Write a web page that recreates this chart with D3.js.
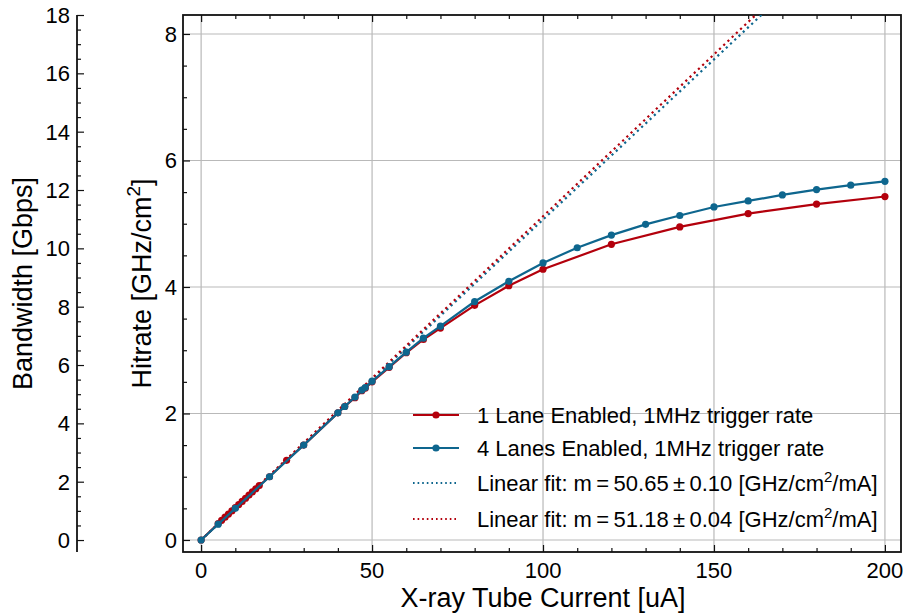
<!DOCTYPE html>
<html>
<head>
<meta charset="utf-8">
<script src="https://cdn.jsdelivr.net/npm/d3@7"></script>
<style>
  body { margin: 0; background: #fff; }
  svg { display: block; font-family: "Liberation Sans", Arial, Helvetica, sans-serif; }
</style>
</head>
<body>
<svg class="graph" width="904" height="616"></svg>
<script>
// Data: X-ray tube current [uA] vs hitrate [GHz/cm2]
const oneLaneCurrent = [0, 5, 6, 7, 8, 9, 10, 11, 12, 13, 14, 15, 16, 17, 20, 25, 30, 40, 42, 45, 47, 48, 50, 55, 60, 65, 70, 80, 90, 100, 120, 140, 160, 180, 200];
const oneLaneHitrate = [0, 0.26, 0.31, 0.36, 0.41, 0.46, 0.51, 0.56, 0.61, 0.66, 0.71, 0.76, 0.81, 0.86, 1.0, 1.26, 1.5, 2.01, 2.11, 2.25, 2.36, 2.4, 2.5, 2.73, 2.96, 3.17, 3.35, 3.71, 4.02, 4.28, 4.675, 4.95, 5.16, 5.31, 5.43];

const fourLaneCurrent = [0, 5, 10, 20, 30, 40, 42, 45, 47, 48, 50, 55, 60, 65, 70, 80, 90, 100, 110, 120, 130, 140, 150, 160, 170, 180, 190, 200];
const fourLaneHitrate = [0, 0.25, 0.5, 1.0, 1.5, 2.01, 2.11, 2.26, 2.37, 2.41, 2.51, 2.74, 2.97, 3.19, 3.38, 3.77, 4.09, 4.38, 4.62, 4.82, 4.99, 5.13, 5.265, 5.36, 5.455, 5.54, 5.61, 5.67];

// Linear fit slopes in GHz/cm2/mA
const fitSlopes = [50.65, 51.18];
const fitErrors = ["0.10", "0.04"];

const xTicks = [0, 50, 100, 150, 200];
const yTicks = [0, 2, 4, 6, 8];
const bandwidthTicks = [0, 2, 4, 6, 8, 10, 12, 14, 16, 18];

document.addEventListener("DOMContentLoaded", () => {
  const svg = d3.select(".graph");

  const red = "#b3000c";
  const blue = "#0e668e";
  const gridColor = "#b9b9b9";

  //Plot area
  const left = 183, right = 901, top = 15, bottom = 552;

  const x = d3.scaleLinear().domain([-5.3, 204.7]).range([left, right]);
  const y = d3.scaleLinear().domain([-0.19, 8.3]).range([bottom, top]);
  const yBandwidth = d3.scaleLinear().domain([-0.41, 18]).range([bottom, top]);

  svg.append("defs")
    .append("clipPath")
    .attr("id", "plot-clip")
    .append("rect")
    .attr("x", left)
    .attr("y", top)
    .attr("width", right - left)
    .attr("height", bottom - top);

  //Grid
  svg.append("g")
    .selectAll("line")
    .data(xTicks)
    .join("line")
    .attr("x1", (d) => x(d))
    .attr("x2", (d) => x(d))
    .attr("y1", top)
    .attr("y2", bottom)
    .attr("stroke", gridColor)
    .attr("stroke-width", 1.2);

  svg.append("g")
    .selectAll("line")
    .data(yTicks)
    .join("line")
    .attr("x1", left)
    .attr("x2", right)
    .attr("y1", (d) => y(d))
    .attr("y2", (d) => y(d))
    .attr("stroke", gridColor)
    .attr("stroke-width", 1.2);

  //Axes with inward ticks
  const xMinor = d3.range(-0, 201, 10);
  const yMinor = d3.range(0, 8.3, 0.5);
  const bwMinor = d3.range(0, 18.01, 0.5);

  const bottomAxis = svg.append("g").attr("transform", `translate(0,${bottom})`);
  bottomAxis.call(d3.axisBottom(x).tickValues(xMinor).tickSize(-4).tickFormat(""));
  bottomAxis.call((g) => g.selectAll(".tick").filter((d) => xTicks.includes(d)).select("line").attr("y2", -7));

  const topAxis = svg.append("g").attr("transform", `translate(0,${top})`);
  topAxis.call(d3.axisTop(x).tickValues(xMinor).tickSize(-4).tickFormat(""));
  topAxis.call((g) => g.selectAll(".tick").filter((d) => xTicks.includes(d)).select("line").attr("y2", 7));

  const leftAxis = svg.append("g").attr("transform", `translate(${left},0)`);
  leftAxis.call(d3.axisLeft(y).tickValues(yMinor).tickSize(-4).tickFormat(""));
  leftAxis.call((g) => g.selectAll(".tick").filter((d) => yTicks.includes(d)).select("line").attr("x2", 7));

  const bwAxis = svg.append("g").attr("transform", "translate(77,0)");
  bwAxis.call(d3.axisLeft(yBandwidth).tickValues(bwMinor).tickSize(-4).tickFormat(""));
  bwAxis.call((g) => g.selectAll(".tick").filter((d) => Math.abs(d % 2) < 1e-9).select("line").attr("x2", 7));

  [bottomAxis, topAxis, leftAxis, bwAxis].forEach((g) => {
    g.select(".domain").remove();
    g.selectAll(".tick line").attr("stroke", "#111").attr("stroke-width", 1.2);
  });

  //Spines
  svg.append("rect")
    .attr("x", left)
    .attr("y", top)
    .attr("width", right - left)
    .attr("height", bottom - top)
    .attr("fill", "none")
    .attr("stroke", "#111")
    .attr("stroke-width", 1.8);

  svg.append("line")
    .attr("x1", 77).attr("x2", 77)
    .attr("y1", top).attr("y2", bottom)
    .attr("stroke", "#111")
    .attr("stroke-width", 1.8);

  //Tick labels
  svg.append("g")
    .selectAll("text")
    .data(xTicks)
    .join("text")
    .attr("x", (d) => x(d))
    .attr("y", 578)
    .attr("text-anchor", "middle")
    .attr("font-size", 22)
    .text((d) => d);

  svg.append("g")
    .selectAll("text")
    .data(yTicks)
    .join("text")
    .attr("x", 177)
    .attr("y", (d) => y(d) + 8)
    .attr("text-anchor", "end")
    .attr("font-size", 22)
    .text((d) => d);

  svg.append("g")
    .selectAll("text")
    .data(bandwidthTicks)
    .join("text")
    .attr("x", 70)
    .attr("y", (d) => yBandwidth(d) + 8)
    .attr("text-anchor", "end")
    .attr("font-size", 22)
    .text((d) => d);

  //Axis labels
  svg.append("text")
    .attr("x", (left + right) / 2 + 1)
    .attr("y", 607)
    .attr("text-anchor", "middle")
    .attr("font-size", 27)
    .text("X-ray Tube Current [uA]");

  const hitLabel = svg.append("text")
    .attr("transform", `translate(151,${(top + bottom) / 2}) rotate(-90)`)
    .attr("text-anchor", "middle")
    .attr("font-size", 27);
  hitLabel.append("tspan").text("Hitrate [GHz/cm");
  hitLabel.append("tspan").attr("font-size", 19).attr("dy", -11).text("2");
  hitLabel.append("tspan").attr("dy", 11).text("]");

  svg.append("text")
    .attr("transform", `translate(32,${(top + bottom) / 2}) rotate(-90)`)
    .attr("text-anchor", "middle")
    .attr("font-size", 27)
    .text("Bandwidth [Gbps]");

  //Plot layer
  const plot = svg.append("g").attr("clip-path", "url(#plot-clip)");

  //Linear fits (dotted)
  const fitColors = [blue, red];
  fitSlopes.forEach((m, i) => {
    plot.append("line")
      .attr("x1", x(0))
      .attr("y1", y(0))
      .attr("x2", x(200))
      .attr("y2", y((m / 1000) * 200))
      .attr("stroke", fitColors[i])
      .attr("stroke-width", 2.2)
      .attr("stroke-dasharray", "2.2,3.6");
  });

  const line = d3.line().x((d) => x(d[0])).y((d) => y(d[1]));

  const drawSeries = (xs, ys, color) => {
    const pts = xs.map((v, i) => [v, ys[i]]);
    plot.append("path")
      .attr("d", line(pts))
      .attr("fill", "none")
      .attr("stroke", color)
      .attr("stroke-width", 2.2);
    plot.append("g")
      .selectAll("circle")
      .data(pts)
      .join("circle")
      .attr("cx", (d) => x(d[0]))
      .attr("cy", (d) => y(d[1]))
      .attr("r", 3.6)
      .attr("fill", color);
  };

  drawSeries(oneLaneCurrent, oneLaneHitrate, red);
  drawSeries(fourLaneCurrent, fourLaneHitrate, blue);

  //Legend
  const legendRows = [
    { color: red, dotted: false, text: "1 Lane Enabled, 1MHz trigger rate" },
    { color: blue, dotted: false, text: "4 Lanes Enabled, 1MHz trigger rate" },
    { color: blue, dotted: true, fit: 0 },
    { color: red, dotted: true, fit: 1 },
  ];
  const legendY = [415, 448, 483, 519];

  const legend = svg.append("g");
  legendRows.forEach((row, i) => {
    const g = legend.append("g").attr("transform", `translate(0,${legendY[i]})`);
    g.append("line")
      .attr("x1", 413)
      .attr("x2", 459)
      .attr("stroke", row.color)
      .attr("stroke-width", row.dotted ? 2 : 2.2)
      .attr("stroke-dasharray", row.dotted ? "1.6,3" : null);
    if (!row.dotted) {
      g.append("circle").attr("cx", 436).attr("r", 3.6).attr("fill", row.color);
    }
    const t = g.append("text").attr("x", 477).attr("y", 8).attr("font-size", 22);
    if (row.fit === undefined) {
      t.text(row.text);
    } else {
      t.append("tspan").text(`Linear fit: m\u2009=\u2009${fitSlopes[row.fit].toFixed(2)}\u2009\u00b1\u20090.${fitErrors[row.fit].split(".")[1]} [GHz/cm`);
      t.append("tspan").attr("font-size", 15).attr("dy", -9).text("2");
      t.append("tspan").attr("dy", 9).text("/mA]");
    }
  });
});
</script>
</body>
</html>
